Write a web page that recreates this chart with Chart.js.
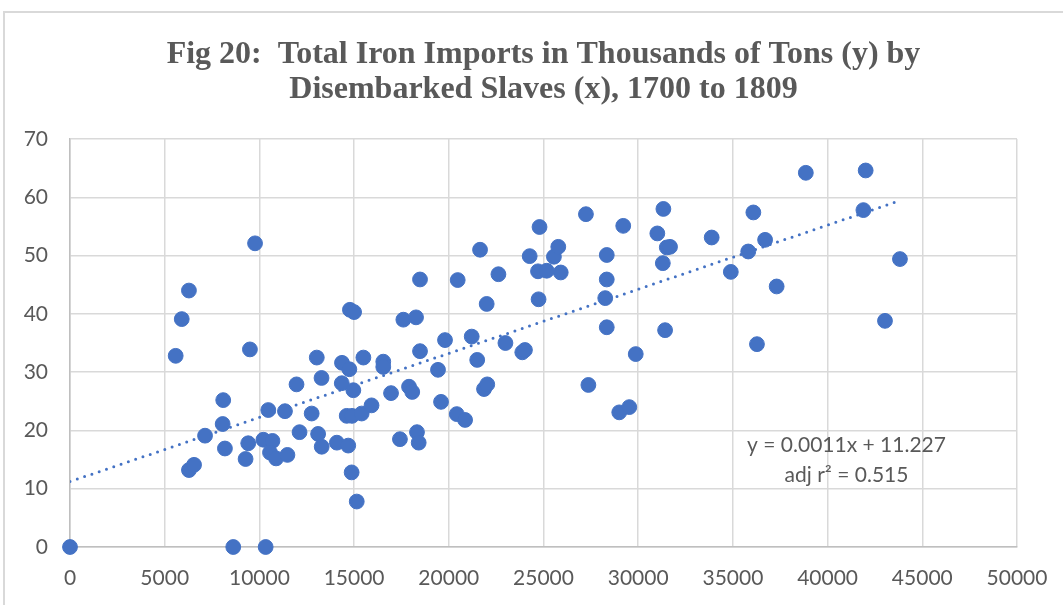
<!DOCTYPE html>
<html>
<head>
<meta charset="utf-8">
<script src="https://cdn.jsdelivr.net/npm/chart.js@4.4.1/dist/chart.umd.min.js"></script>
<style>
  html, body { margin: 0; padding: 0; background: #fff; }
  #wrap { position: relative; width: 1063px; height: 605px; }
</style>
</head>
<body>
<div id="wrap"><canvas id="myChart" width="1063" height="605"></canvas></div>
<script>
// disembarked slaves (x) and iron imports in thousands of tons (y), 1700-1809
var slaves = [
  0, 5580, 5900, 6280, 6280, 6550, 7130, 8090, 8060, 8180,
  8620, 9770, 9500, 9410, 9270, 10330, 10210, 10470, 10690, 10560,
  10880, 11350, 11480, 11960, 12120, 12760, 13030, 13100, 13280, 13290,
  14090, 14360, 14350, 14690, 14610, 14780, 15000, 14960, 14750, 14870,
  15140, 14890, 15400, 15490, 15920, 16540, 16540, 16950, 17420, 17600,
  17900, 18070, 18270, 18320, 18410, 18480, 18480, 19430, 19590, 19800,
  20470, 20420, 20860, 21210, 21500, 21650, 21860, 22030, 22000, 22620,
  22990, 23880, 24020, 24270, 24710, 24790, 24740, 25170, 25550, 25780,
  25910, 27240, 27370, 28340, 28340, 28260, 28340, 29000, 29210, 29530,
  29870, 31010, 31330, 31300, 31420, 31510, 31680, 33880, 34890, 35810,
  36080, 36270, 36700, 37310, 38850, 41890, 42010, 43030, 43820
];
var ironTons = [
  0, 32.8, 39.1, 44.0, 13.2, 14.1, 19.1, 25.2, 21.1, 16.9,
  0, 52.1, 33.9, 17.8, 15.1, 0, 18.4, 23.5, 18.2, 16.2,
  15.2, 23.3, 15.8, 27.9, 19.7, 22.9, 32.5, 19.4, 29.0, 17.2,
  17.9, 31.6, 28.1, 17.4, 22.5, 40.7, 40.3, 26.9, 30.5, 12.8,
  7.8, 22.5, 22.9, 32.5, 24.3, 31.8, 30.9, 26.4, 18.5, 39.0,
  27.5, 26.6, 39.4, 19.7, 17.9, 33.6, 45.9, 30.4, 24.9, 35.5,
  45.8, 22.8, 21.8, 36.1, 32.1, 51.0, 27.1, 27.9, 41.7, 46.8,
  35.0, 33.4, 33.8, 49.9, 47.3, 54.9, 42.5, 47.4, 49.8, 51.5,
  47.1, 57.1, 27.8, 50.1, 45.9, 42.7, 37.7, 23.1, 55.1, 24.0,
  33.1, 53.8, 58.0, 48.7, 37.2, 51.4, 51.5, 53.1, 47.2, 50.7,
  57.4, 34.8, 52.7, 44.7, 64.2, 57.8, 64.6, 38.8, 49.4
];

// linear trend as printed on the chart
var slope = 0.0011;
var intercept = 11.227;
var adjR2 = 0.515;

var titleLines = ['Fig 20:  Total Iron Imports in Thousands of Tons (y) by', 'Disembarked Slaves (x), 1700 to 1809'];

var points = slaves.map(function (s, i) { return { x: s, y: ironTons[i] }; });
var xMax = Math.max.apply(null, slaves);
var trend = [
  { x: 0, y: intercept },
  { x: xMax, y: slope * xMax + intercept }
];

var blue = '#4472C4';
var gray = '#595959';

// outer frame, title over the plot centre, and the trend label
var decor = {
  id: 'decor',
  beforeDraw: function (chart) {
    var c = chart.ctx;
    c.save();
    c.strokeStyle = '#d9d9d9';
    c.lineWidth = 2;
    c.strokeRect(4, 12, 1100, 700);
    c.restore();
  },
  afterDraw: function (chart) {
    var c = chart.ctx;
    var xs = chart.scales.x, ys = chart.scales.y;
    var area = chart.chartArea;
    c.save();
    c.fillStyle = gray;
    c.textAlign = 'center';
    c.textBaseline = 'middle';
    c.font = 'bold 32px "Liberation Serif"';
    var tx = (area.left + area.right) / 2;
    c.fillText(titleLines[0], tx, 55);
    c.fillText(titleLines[1], tx, 90);
    c.font = '21px Lato';
    var cx = xs.getPixelForValue(41000);
    c.fillText('y = ' + slope + 'x + ' + intercept, cx, ys.getPixelForValue(17.5));
    c.fillText('adj r\u00B2 = ' + adjR2, cx, ys.getPixelForValue(12.3));
    c.restore();
  }
};

var ctx = document.getElementById('myChart');
var myChart = new Chart(ctx, {
  type: 'scatter',
  data: {
    datasets: [{
      data: points,
      backgroundColor: blue,
      borderColor: blue,
      borderWidth: 1,
      pointRadius: 7.4,
      clip: false
    }, {
      type: 'line',
      data: trend,
      borderColor: blue,
      borderWidth: 3,
      borderDash: [0, 7.7],
      borderCapStyle: 'round',
      pointRadius: 0,
      fill: false
    }]
  },
  options: {
    responsive: false,
    animation: false,
    layout: { padding: { left: 0, right: 46, top: 139, bottom: 0 } },
    plugins: {
      legend: { display: false },
      tooltip: { enabled: false },
      title: { display: false }
    },
    scales: {
      x: {
        type: 'linear',
        min: 0,
        max: 50000,
        grid: { color: '#d9d9d9', lineWidth: 1.5, drawTicks: false },
        border: { color: '#bfbfbf', width: 1.5 },
        ticks: {
          stepSize: 5000, color: gray, padding: 19, maxRotation: 0,
          font: { family: 'Lato', size: 21 },
          callback: function (v) { return String(v); }
        },
        afterFit: function (scale) {
          scale.height = 58;
          scale.paddingLeft = 0;
          scale.paddingRight = 0;
        }
      },
      y: {
        min: 0,
        max: 70,
        grid: { color: '#d9d9d9', lineWidth: 1.5, drawTicks: false },
        border: { color: '#bfbfbf', width: 1.5 },
        ticks: { stepSize: 10, color: gray, padding: 22, font: { family: 'Lato', size: 21 } },
        afterFit: function (scale) { scale.width = 70; }
      }
    }
  },
  plugins: [decor]
});
</script>
</body>
</html>
